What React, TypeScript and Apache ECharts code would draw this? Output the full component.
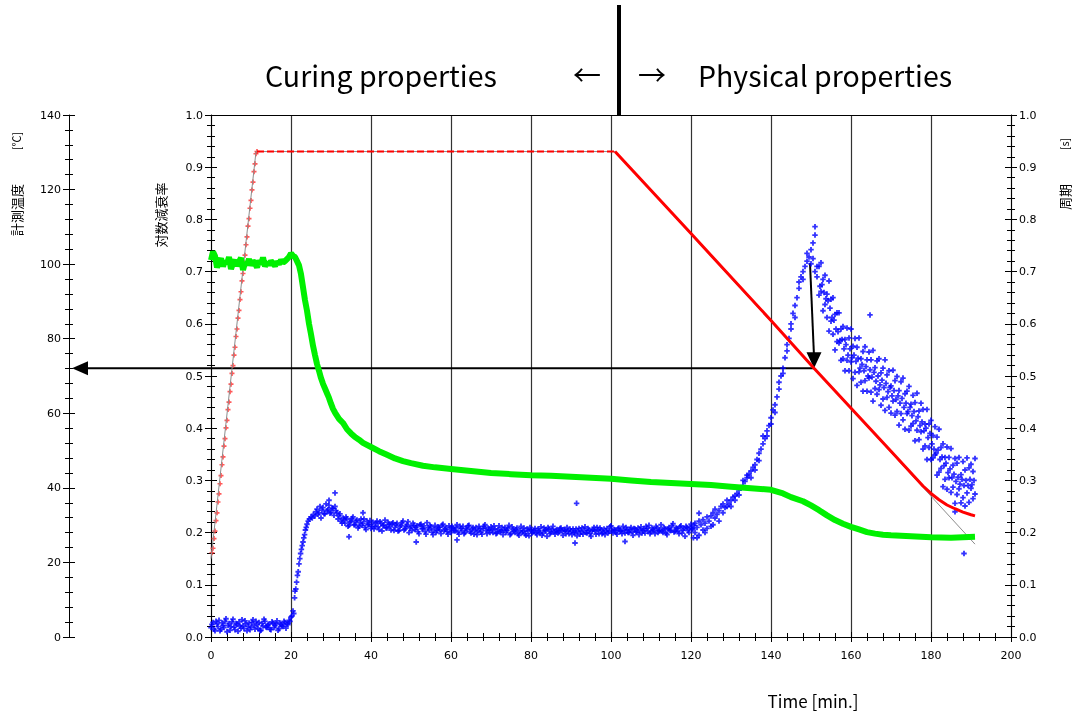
import React, { useEffect, useRef } from "react";
import * as echarts from "echarts";

// ---------- texts ----------
const TITLE_LEFT = "Curing properties";
const TITLE_RIGHT = "Physical properties";
const ARROW_LEFT = "←";
const ARROW_RIGHT = "→";
const X_NAME = "Time [min.]";
const TEMP_NAME = "計測温度";
const TEMP_UNIT = "[℃]";
const LOG_NAME = "対数減衰率";
const PERIOD_NAME = "周期";
const PERIOD_UNIT = "[s]";

// ---------- axes ----------
const X_MIN = 0, X_MAX = 200, X_STEP = 20;
const TEMP_MIN = 0, TEMP_MAX = 140, TEMP_STEP = 20;
const R_MIN = 0, R_MAX = 1, R_STEP = 0.1;

// ---------- temperature (°C) ----------
const tempProgram: number[][] = [[0, 21], [11.25, 130.2], [101, 130.2], [191, 24.9]];
const redRamp: number[][] = [
  [0.25, 22.6], [0.5, 23.8], [0.75, 26.4], [1, 28.4], [1.25, 31.2], [1.5, 33.3], [1.75, 36.2], [2, 38.4],
  [2.25, 41.1], [2.5, 43.3], [2.75, 46.2], [3, 48.3], [3.25, 51.2], [3.5, 53.2], [3.75, 56.1], [4, 58.1],
  [4.25, 61], [4.5, 63], [4.75, 65.8], [5, 67.8], [5.25, 70.7], [5.5, 72.8], [5.75, 75.6], [6, 77.7],
  [6.25, 80.6], [6.5, 82.6], [6.75, 85.5], [7, 87.6], [7.25, 90.5], [7.5, 92.6], [7.75, 95.5], [8, 97.5],
  [8.25, 100.4], [8.5, 102.4], [8.75, 105.2], [9, 107.3], [9.25, 110.2], [9.5, 112.2], [9.75, 115],
  [10, 117.1], [10.25, 119.9], [10.5, 122], [10.75, 124.8], [11, 126.9], [11.25, 129.6], [11.5, 130.2]
];
const redHold: number[][] = [[11.5, 130.2], [101, 130.2]];
const redCool: number[][] = [
  [101, 130.2], [120, 108.2], [140, 84.9], [150.75, 72.1], [170, 49.8], [178, 40.5], [180, 38.5],
  [182, 36.8], [184, 35.4], [186, 34.4], [188, 33.5], [190, 32.8], [191, 32.5]
];

// ---------- log decrement (green) ----------
const greenHoldT0 = 0, greenHoldStep = 0.5;
const greenHold = [
  0.722, 0.738, 0.73, 0.708, 0.718, 0.725, 0.71, 0.72, 0.715, 0.728, 0.705, 0.716, 0.722, 0.711,
  0.719, 0.726, 0.703, 0.717, 0.713, 0.724, 0.712, 0.72, 0.716, 0.708, 0.721, 0.714, 0.727, 0.71,
  0.718, 0.713, 0.72, 0.716, 0.711, 0.719, 0.714, 0.722, 0.717, 0.72, 0.724, 0.728, 0.735
];
const greenDecay: number[][] = [
  [20.5, 0.73], [21, 0.728], [21.5, 0.72], [22, 0.712], [22.5, 0.695], [23, 0.67], [23.5, 0.645],
  [24, 0.625], [24.5, 0.6], [25, 0.58], [25.5, 0.558], [26, 0.54], [26.5, 0.523], [27, 0.51],
  [27.5, 0.496], [28, 0.485], [28.5, 0.476], [29, 0.467], [29.5, 0.458], [30, 0.447], [30.5, 0.437],
  [31, 0.43], [32, 0.418], [33, 0.41], [34, 0.398], [35, 0.39], [36, 0.383], [37, 0.378], [38, 0.372],
  [40, 0.364], [42, 0.356], [44, 0.349], [46, 0.342], [48, 0.337], [50, 0.333], [53, 0.328],
  [56, 0.325], [60, 0.322], [65, 0.318], [70, 0.314], [75, 0.312], [80, 0.31], [85, 0.309],
  [90, 0.307], [95, 0.305], [100, 0.303], [105, 0.3], [110, 0.297], [115, 0.295], [120, 0.293],
  [125, 0.291], [130, 0.288], [135, 0.285], [140, 0.282], [143, 0.275], [145, 0.268], [148, 0.26],
  [150, 0.252], [152, 0.243], [154, 0.233], [156, 0.224], [158, 0.217], [160, 0.211], [162, 0.206],
  [164, 0.201], [166, 0.198], [168, 0.196], [170, 0.195], [175, 0.193], [180, 0.191], [185, 0.19],
  [191, 0.192]
];

// ---------- period (blue) ----------
const blueBaseAT0 = 0, blueBaseBT0 = 0.25, blueStep = 0.5;
const blueBaseA = [
  0.018, 0.028, 0.012, 0.025, 0.032, 0.015, 0.022, 0.03, 0.01, 0.026, 0.02, 0.034, 0.014, 0.024,
  0.029, 0.017, 0.022, 0.031, 0.012, 0.027, 0.019, 0.033, 0.015, 0.024, 0.028, 0.013, 0.021, 0.03,
  0.018, 0.025, 0.014, 0.027, 0.022, 0.031, 0.016, 0.024, 0.02, 0.028, 0.025, 0.032, 0.038
];
const blueBaseB = [
  0.024, 0.015, 0.03, 0.02, 0.012, 0.027, 0.018, 0.035, 0.022, 0.013, 0.029, 0.019, 0.026, 0.011,
  0.021, 0.033, 0.016, 0.025, 0.02, 0.014, 0.028, 0.022, 0.03, 0.017, 0.012, 0.026, 0.034, 0.019,
  0.023, 0.015, 0.029, 0.018, 0.025, 0.013, 0.027, 0.021, 0.03, 0.017, 0.024, 0.03
];
const blueRise1: number[][] = [
  [20.2, 0.04], [20.5, 0.05], [20.7, 0.045], [20.9, 0.075], [21.0, 0.088], [21.2, 0.092], [21.4, 0.105],
  [21.6, 0.118], [21.8, 0.125], [22.0, 0.14], [22.2, 0.15], [22.4, 0.16], [22.6, 0.168], [22.8, 0.175],
  [23.0, 0.182], [23.2, 0.19], [23.4, 0.196], [23.6, 0.205], [23.8, 0.21], [24.0, 0.216], [24.3, 0.222],
  [24.6, 0.226], [25.0, 0.23], [25.3, 0.228], [25.6, 0.235]
];
const bluePlateauT0 = 26;
const bluePlateau = [
  0.232, 0.245, 0.238, 0.228, 0.248, 0.236, 0.242, 0.252, 0.239, 0.246,
  0.25, 0.238, 0.232, 0.222, 0.228, 0.218, 0.226, 0.214, 0.222, 0.23,
  0.215, 0.224, 0.212, 0.226, 0.218, 0.21, 0.222, 0.216, 0.208, 0.22,
  0.212, 0.222, 0.206, 0.218, 0.213, 0.224, 0.209, 0.216, 0.205, 0.219,
  0.21, 0.218, 0.204, 0.214, 0.222, 0.207, 0.215, 0.2, 0.212, 0.218,
  0.206, 0.213, 0.198, 0.216, 0.208, 0.202, 0.219, 0.205, 0.211, 0.196,
  0.214, 0.204, 0.21, 0.198, 0.216, 0.207, 0.202, 0.213, 0.2, 0.209,
  0.203, 0.215, 0.197, 0.208, 0.212, 0.2, 0.206, 0.214, 0.199, 0.21,
  0.204, 0.196, 0.212, 0.201, 0.208, 0.215, 0.198, 0.205, 0.211, 0.2,
  0.207, 0.199, 0.213, 0.203, 0.196, 0.21, 0.204, 0.214, 0.198, 0.206,
  0.2, 0.209, 0.195, 0.212, 0.203, 0.198, 0.207, 0.194, 0.205, 0.201,
  0.208, 0.196, 0.203, 0.211, 0.199, 0.205, 0.193, 0.207, 0.2, 0.212,
  0.197, 0.206, 0.201, 0.209, 0.195, 0.204, 0.21, 0.198, 0.203, 0.207,
  0.2, 0.194, 0.208, 0.202, 0.197, 0.211, 0.199, 0.205, 0.193, 0.206,
  0.203, 0.21, 0.198, 0.205, 0.2, 0.196, 0.208, 0.202, 0.213, 0.199,
  0.205, 0.197, 0.209, 0.203, 0.212, 0.199, 0.206, 0.2, 0.21, 0.195,
  0.207, 0.202, 0.196, 0.211, 0.204, 0.199, 0.208, 0.214, 0.201, 0.206,
  0.198, 0.209, 0.203, 0.215, 0.2, 0.207, 0.196, 0.21, 0.204, 0.217,
  0.202, 0.208, 0.198, 0.213, 0.205, 0.193, 0.21, 0.2, 0.216, 0.207
];
const bluePlateauBT0 = 26.25;
const bluePlateauB = [
  0.24, 0.235, 0.25, 0.243, 0.236, 0.255, 0.244, 0.237, 0.247, 0.233,
  0.242, 0.226, 0.236, 0.218, 0.224, 0.23, 0.212, 0.22, 0.227, 0.215,
  0.222, 0.209, 0.219, 0.214, 0.226, 0.206, 0.215, 0.223, 0.212, 0.207,
  0.218, 0.211, 0.221, 0.203, 0.215, 0.209, 0.22, 0.212, 0.217, 0.204,
  0.215, 0.203, 0.211, 0.219, 0.205, 0.212, 0.221, 0.209, 0.204, 0.214,
  0.21, 0.202, 0.215, 0.207, 0.213, 0.197, 0.209, 0.214, 0.201, 0.207,
  0.2, 0.211, 0.205, 0.214, 0.203, 0.21, 0.197, 0.206, 0.212, 0.204,
  0.209, 0.201, 0.212, 0.204, 0.198, 0.208, 0.213, 0.202, 0.207, 0.197,
  0.21, 0.203, 0.207, 0.197, 0.212, 0.204, 0.209, 0.2, 0.206, 0.213,
  0.198, 0.206, 0.201, 0.21, 0.205, 0.2, 0.208, 0.196, 0.211, 0.203,
  0.206, 0.198, 0.204, 0.2, 0.209, 0.195, 0.203, 0.21, 0.199, 0.204,
  0.199, 0.207, 0.2, 0.195, 0.209, 0.203, 0.21, 0.198, 0.206, 0.202,
  0.204, 0.199, 0.208, 0.203, 0.206, 0.198, 0.203, 0.207, 0.196, 0.2,
  0.207, 0.203, 0.197, 0.209, 0.204, 0.2, 0.208, 0.198, 0.203, 0.21,
  0.197, 0.205, 0.209, 0.198, 0.207, 0.203, 0.199, 0.211, 0.204, 0.206,
  0.2, 0.208, 0.203, 0.198, 0.205, 0.21, 0.2, 0.206, 0.202, 0.208,
  0.201, 0.209, 0.205, 0.199, 0.207, 0.212, 0.203, 0.198, 0.209, 0.204,
  0.212, 0.2, 0.206, 0.203, 0.21, 0.199, 0.207, 0.204, 0.213, 0.201,
  0.209, 0.203, 0.211, 0.199, 0.208, 0.212, 0.204, 0.21, 0.207, 0.214
];
const blueOutliers: number[][] = [
  [29.5, 0.262], [31, 0.276], [34.5, 0.192], [38, 0.238], [51.3, 0.182], [61.5, 0.186],
  [91, 0.18], [91.4, 0.256], [103.5, 0.183], [120.6, 0.19], [122, 0.237], [164.75, 0.617],
  [188.25, 0.16], [186, 0.24]
];
const blueRise2: number[][] = [
  [121, 0.2], [121, 0.218], [121.5, 0.19], [121.5, 0.21], [122, 0.222], [122, 0.195], [122.5, 0.215],
  [123, 0.225], [123, 0.205], [123.5, 0.218], [123.5, 0.2], [124, 0.23], [124, 0.208], [124.5, 0.222],
  [125, 0.232], [125, 0.212], [125.5, 0.238], [125.5, 0.215], [126, 0.228], [126, 0.245], [126.5, 0.235],
  [127, 0.242], [127, 0.222], [127.5, 0.25], [128, 0.238], [128, 0.255], [128.5, 0.248], [129, 0.25],
  [129, 0.262], [129.5, 0.255], [130, 0.262], [130, 0.25], [130.5, 0.268], [131, 0.27], [131, 0.262],
  [131.5, 0.275], [132, 0.282], [132, 0.272], [132.5, 0.285], [133, 0.29], [133, 0.3], [133.5, 0.298],
  [134, 0.305], [134, 0.31], [134.5, 0.312], [135, 0.318], [135, 0.305], [135.5, 0.325], [136, 0.33],
  [136, 0.32], [136.5, 0.34], [137, 0.352], [137, 0.338], [137.5, 0.36], [138, 0.37], [138, 0.385],
  [138.5, 0.38], [139, 0.395], [139, 0.385], [139.5, 0.405], [140, 0.42], [140, 0.408], [140.5, 0.435],
  [141, 0.445], [141, 0.43], [141.5, 0.46], [142, 0.475], [142, 0.488], [142.5, 0.5], [143, 0.515],
  [143, 0.505], [143.5, 0.535], [144, 0.548], [144, 0.56], [144.5, 0.572], [145, 0.59], [145, 0.6],
  [145.5, 0.62], [146, 0.635], [146, 0.612], [146.5, 0.65], [147, 0.668], [147, 0.68], [147.5, 0.69],
  [148, 0.7], [148, 0.685], [148.5, 0.71], [149, 0.72], [149, 0.735], [149.5, 0.728], [150, 0.742],
  [150, 0.715], [150.5, 0.755], [150.5, 0.725], [151, 0.77], [151, 0.786], [151, 0.7], [151.5, 0.71],
  [151.5, 0.69]
];
const blueDecayT0 = 152, blueDecayCT0 = 152.25;
const blueDecayA = [
  0.71, 0.717, 0.685, 0.693, 0.657, 0.682, 0.647, 0.65, 0.618, 0.621, 0.621, 0.59, 0.595, 0.57,
  0.592, 0.573, 0.59, 0.557, 0.572, 0.555, 0.573, 0.533, 0.547, 0.556, 0.531, 0.546, 0.531, 0.549,
  0.516, 0.529, 0.533, 0.506, 0.515, 0.531, 0.502, 0.51, 0.481, 0.511, 0.491, 0.499, 0.472, 0.489,
  0.496, 0.466, 0.471, 0.48, 0.446, 0.463, 0.449, 0.467, 0.433, 0.448, 0.436, 0.408, 0.436, 0.408,
  0.415, 0.386, 0.403, 0.383, 0.398, 0.363, 0.37, 0.344, 0.364, 0.344, 0.361, 0.329, 0.342, 0.333,
  0.344, 0.311, 0.336, 0.32, 0.343, 0.324, 0.331, 0.317, 0.342
];
const blueDecayB = [
  0.655, 0.662, 0.625, 0.637, 0.612, 0.586, 0.605, 0.58, 0.55, 0.566, 0.563, 0.53, 0.533, 0.51,
  0.53, 0.51, 0.527, 0.495, 0.507, 0.482, 0.508, 0.488, 0.471, 0.491, 0.471, 0.496, 0.469, 0.452,
  0.476, 0.465, 0.474, 0.444, 0.456, 0.434, 0.459, 0.44, 0.429, 0.452, 0.425, 0.432, 0.406, 0.428,
  0.416, 0.398, 0.428, 0.396, 0.404, 0.409, 0.376, 0.396, 0.378, 0.393, 0.36, 0.366, 0.34, 0.363,
  0.34, 0.343, 0.349, 0.31, 0.316, 0.323, 0.288, 0.302, 0.283, 0.305, 0.277, 0.287, 0.256, 0.273,
  0.284, 0.257, 0.267, 0.251, 0.276, 0.258, 0.285, 0.265, 0.274
];
const blueDecayC = [
  0.672, 0.675, 0.66, 0.648, 0.644, 0.63, 0.612, 0.607, 0.59, 0.585, 0.568, 0.57, 0.552, 0.56,
  0.54, 0.552, 0.535, 0.54, 0.528, 0.534, 0.515, 0.522, 0.51, 0.518, 0.5, 0.512, 0.498, 0.507,
  0.49, 0.5, 0.483, 0.492, 0.478, 0.486, 0.47, 0.478, 0.462, 0.472, 0.455, 0.462, 0.448, 0.457,
  0.44, 0.448, 0.432, 0.44, 0.424, 0.432, 0.414, 0.422, 0.405, 0.412, 0.395, 0.4, 0.382, 0.39,
  0.37, 0.36, 0.352, 0.358, 0.34, 0.345, 0.328, 0.333, 0.315, 0.322, 0.305, 0.312, 0.298, 0.306,
  0.293, 0.302, 0.29, 0.3, 0.29, 0.302, 0.292, 0.3
];

// annotation: period peak -> temperature at that moment
const ARROW_SOURCE = [149.75, 0.716]; // on period axis
const ARROW_TARGET = [150.75, 72.1]; // on temperature axis

// ---------- layout ----------
const W = 1073, H = 714;
const GRID = { left: 211, right: 62, top: 115, bottom: 77 };
const TEMP_OFFSET = 142;
const LABEL_FONT = "DejaVu Sans";
const TITLE_FONT = "Noto Sans CJK JP";

const seq = (t0: number, step: number, vals: number[]) => vals.map((v, i) => [t0 + i * step, v]);

const PLUS = "path://M2,0L4,0L4,2L6,2L6,4L4,4L4,6L2,6L2,4L0,4L0,2L2,2Z";
const BLACK = { color: "#000", width: 1 };

function yAxisPair(min: number, max: number, interval: number, position: string, offset: number, fmt?: (v: number) => string) {
  const outer = {
    type: "value", min, max, interval, position, offset,
    axisLine: { show: true, onZero: false, lineStyle: BLACK },
    axisTick: { show: true, length: 6, lineStyle: BLACK },
    minorTick: { show: true, splitNumber: 5, length: 4, lineStyle: BLACK },
    splitLine: { show: false },
    axisLabel: { margin: 8, fontFamily: LABEL_FONT, fontSize: 11, color: "#000", formatter: fmt },
  };
  const inner = {
    type: "value", min, max, interval, position, offset,
    axisLine: { show: false, onZero: false },
    axisTick: { show: true, inside: true, length: 6, lineStyle: BLACK },
    minorTick: { show: true, splitNumber: 5, length: 4, lineStyle: BLACK },
    splitLine: { show: false },
    axisLabel: { show: false },
  };
  return [outer, inner];
}

export default function App() {
  const ref = useRef<HTMLDivElement>(null);
  useEffect(() => {
    const chart = echarts.init(ref.current!, null, { renderer: "svg" });
    const fmt1 = (v: number) => v.toFixed(1);
    const [tOut, tIn] = yAxisPair(TEMP_MIN, TEMP_MAX, TEMP_STEP, "left", TEMP_OFFSET);
    const [lOut, lIn] = yAxisPair(R_MIN, R_MAX, R_STEP, "left", 0, fmt1);
    const [pOut, pIn] = yAxisPair(R_MIN, R_MAX, R_STEP, "right", 0, fmt1);

    const blueStyle = { type: "scatter", xAxisIndex: 0, yAxisIndex: 2, symbol: PLUS, symbolSize: 5.5,
      itemStyle: { color: "#0000ff" }, silent: true };

    chart.setOption({
      animation: false,
      grid: { ...GRID, containLabel: false },
      xAxis: [
        {
          type: "value", min: X_MIN, max: X_MAX, interval: X_STEP, position: "bottom",
          axisLine: { show: true, onZero: false, lineStyle: BLACK },
          axisTick: { show: true, length: 5, lineStyle: BLACK },
          minorTick: { show: true, splitNumber: 5, length: 4, lineStyle: BLACK },
          splitLine: { show: true, lineStyle: { color: "#333", width: 1.2 } },
          axisLabel: { margin: 13, fontFamily: LABEL_FONT, fontSize: 11, color: "#000" },
        },
        {
          type: "value", min: X_MIN, max: X_MAX, interval: X_STEP, position: "bottom",
          axisLine: { show: false, onZero: false },
          axisTick: { show: true, inside: true, length: 5, lineStyle: BLACK },
          minorTick: { show: true, splitNumber: 5, length: 4, lineStyle: BLACK },
          splitLine: { show: false }, axisLabel: { show: false },
        },
        {
          type: "value", min: X_MIN, max: X_MAX, interval: X_STEP, position: "top",
          axisLine: { show: true, onZero: false, lineStyle: BLACK },
          axisTick: { show: false }, splitLine: { show: false }, axisLabel: { show: false },
        },
      ],
      yAxis: [tOut, lOut, pOut, tIn, lIn, pIn],
      series: [
        { type: "line", xAxisIndex: 0, yAxisIndex: 0, data: tempProgram, symbol: "none",
          lineStyle: { color: "#8c8c8c", width: 1 }, silent: true },
        { type: "line", xAxisIndex: 0, yAxisIndex: 1,
          data: [...seq(greenHoldT0, greenHoldStep, greenHold), ...greenDecay], symbol: "none",
          lineStyle: { color: "#00f000", width: 6 }, silent: true },
        { ...blueStyle, data: seq(blueBaseAT0, blueStep, blueBaseA) },
        { ...blueStyle, data: seq(blueBaseBT0, blueStep, blueBaseB) },
        { ...blueStyle, data: blueRise1 },
        { ...blueStyle, data: seq(bluePlateauT0, blueStep, bluePlateau) },
        { ...blueStyle, data: seq(bluePlateauBT0, blueStep, bluePlateauB) },
        { ...blueStyle, data: blueOutliers },
        { ...blueStyle, data: blueRise2 },
        { ...blueStyle, data: seq(blueDecayT0, blueStep, blueDecayA) },
        { ...blueStyle, data: seq(blueDecayT0, blueStep, blueDecayB) },
        { ...blueStyle, data: seq(blueDecayCT0, blueStep, blueDecayC) },
        { type: "scatter", xAxisIndex: 0, yAxisIndex: 0, data: redRamp, symbol: PLUS, symbolSize: 5,
          itemStyle: { color: "#ff3030", opacity: 0.8 }, silent: true },
        { type: "line", xAxisIndex: 0, yAxisIndex: 0, data: redHold, symbol: "none",
          lineStyle: { color: "#ff0000", width: 2, type: [7, 3] }, silent: true },
        { type: "line", xAxisIndex: 0, yAxisIndex: 0, data: redCool, symbol: "none",
          lineStyle: { color: "#ff0000", width: 3 }, silent: true },
      ],
    });

    const pTo = chart.convertToPixel({ xAxisIndex: 0, yAxisIndex: 0 }, ARROW_TARGET) as number[];
    const pFrom = chart.convertToPixel({ xAxisIndex: 0, yAxisIndex: 2 }, ARROW_SOURCE) as number[];
    const axisX = GRID.left - TEMP_OFFSET;

    const textStyle = (size: number, font: string) => ({ fill: "#000", fontSize: size, fontFamily: font });

    chart.setOption({
      graphic: [
        { type: "line", shape: { x1: 619, y1: 5, x2: 619, y2: GRID.top }, style: { stroke: "#000", lineWidth: 4 } },
        { type: "text", x: 265, y: 74, style: { ...textStyle(28.5, TITLE_FONT), text: TITLE_LEFT, textAlign: "left", textVerticalAlign: "middle" } },
        { type: "text", x: 587, y: 74, style: { ...textStyle(28, TITLE_FONT), text: ARROW_LEFT, textAlign: "center", textVerticalAlign: "middle" } },
        { type: "text", x: 652, y: 74, style: { ...textStyle(28, TITLE_FONT), text: ARROW_RIGHT, textAlign: "center", textVerticalAlign: "middle" } },
        { type: "text", x: 698, y: 74, style: { ...textStyle(28.5, TITLE_FONT), text: TITLE_RIGHT, textAlign: "left", textVerticalAlign: "middle" } },
        { type: "text", x: 813, y: 700, style: { ...textStyle(17, TITLE_FONT), text: X_NAME, textAlign: "center", textVerticalAlign: "middle" } },
        { type: "text", x: 16, y: 210, rotation: Math.PI / 2, style: { ...textStyle(13, TITLE_FONT), text: TEMP_NAME, textAlign: "center", textVerticalAlign: "middle" } },
        { type: "text", x: 16, y: 141, rotation: Math.PI / 2, style: { ...textStyle(11, TITLE_FONT), text: TEMP_UNIT, textAlign: "center", textVerticalAlign: "middle" } },
        { type: "text", x: 160, y: 215, rotation: Math.PI / 2, style: { ...textStyle(13, TITLE_FONT), text: LOG_NAME, textAlign: "center", textVerticalAlign: "middle" } },
        { type: "text", x: 1064, y: 197, rotation: Math.PI / 2, style: { ...textStyle(13, TITLE_FONT), text: PERIOD_NAME, textAlign: "center", textVerticalAlign: "middle" } },
        { type: "text", x: 1064, y: 144, rotation: Math.PI / 2, style: { ...textStyle(11, TITLE_FONT), text: PERIOD_UNIT, textAlign: "center", textVerticalAlign: "middle" } },
        // down arrow: period peak -> temperature curve
        { type: "line", shape: { x1: pFrom[0], y1: pFrom[1], x2: pTo[0], y2: pTo[1] - 12 }, style: { stroke: "#000", lineWidth: 2 } },
        { type: "polygon", shape: { points: [[pTo[0] - 7.5, pTo[1] - 16], [pTo[0] + 7.5, pTo[1] - 16], [pTo[0], pTo[1]]] }, style: { fill: "#000" } },
        // left arrow: temperature reading
        { type: "line", shape: { x1: pTo[0], y1: pTo[1], x2: axisX + 16, y2: pTo[1] }, style: { stroke: "#000", lineWidth: 2 } },
        { type: "polygon", shape: { points: [[axisX + 3, pTo[1]], [axisX + 19, pTo[1] - 7], [axisX + 19, pTo[1] + 7]] }, style: { fill: "#000" } },
      ],
    });

    return () => chart.dispose();
  }, []);
  return <div ref={ref} style={{ position: "fixed", left: 0, top: 0, width: W, height: H }} />;
}
